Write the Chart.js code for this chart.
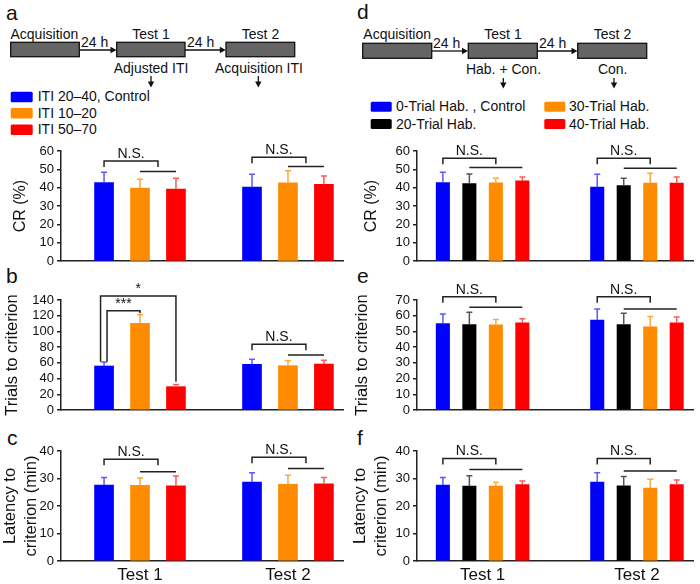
<!DOCTYPE html>
<html>
<head>
<meta charset="utf-8">
<script src="https://cdn.jsdelivr.net/npm/chart.js@4.4.1/dist/chart.umd.min.js"></script>
<style>
  body { margin: 0; background: #fff; }
  #wrap { position: relative; width: 700px; height: 584px; overflow: hidden; }
  #wrap canvas, #wrap svg { position: absolute; }
</style>
</head>
<body>
<div id="wrap">
  <svg id="art" width="700" height="584" style="left:0;top:0" font-family="Liberation Sans, Arial, sans-serif" fill="#111"></svg>
</div>
<script>
Chart.defaults.font.family = "'Liberation Sans', Arial, sans-serif";
Chart.defaults.color = '#111';

// categories and series
const groups = ['Test 1', 'Test 2'];
const itiNames = ['ITI 20–40, Control', 'ITI 10–20', 'ITI 50–70'];
const habNames = ['0-Trial Hab. , Control', '20-Trial Hab.', '30-Trial Hab.', '40-Trial Hab.'];

// means: one row per series, one value per test; sem = upper error bar
const crIti        = [[42.8, 40.3], [39.8, 42.7], [39.2, 41.9]];
const crItiSem     = [[5.6, 7.1], [4.8, 6.5], [6.0, 4.5]];
const trialsIti    = [[56.0, 58.1], [110.3, 56.4], [29.7, 58.5]];
const trialsItiSem = [[5.1, 6.4], [11.0, 6.4], [2.7, 4.7]];
const latIti       = [[27.6, 28.7], [27.5, 27.9], [27.3, 28.1]];
const latItiSem    = [[2.8, 3.4], [2.7, 3.3], [3.6, 2.3]];

const crHab        = [[42.8, 40.3], [42.3, 41.2], [42.7, 42.5], [43.7, 42.5]];
const crHabSem     = [[5.6, 7.1], [5.2, 4.0], [2.5, 5.4], [2.2, 3.4]];
const trialsHab    = [[55.0, 57.3], [54.4, 54.4], [54.2, 52.9], [55.4, 55.4]];
const trialsHabSem = [[6.1, 7.0], [7.8, 7.2], [3.4, 6.6], [2.6, 3.8]];
const latHab       = [[27.6, 28.7], [27.2, 27.3], [27.2, 26.5], [27.8, 27.8]];
const latHabSem    = [[2.8, 3.4], [3.8, 3.4], [1.4, 3.2], [1.3, 1.7]];

// significance brackets (values in axis units)
const crItiBr     = [{ group: 0, top: 54.5, line: 48.8, text: 'N.S.' }, { group: 1, top: 56.6, line: 51.5, text: 'N.S.' }];
const trialsItiBr = [
  { group: 0, from: 0, to: 2, top: 145, legFrom: 61.5, legTo: 36, text: '*' },
  { group: 0, from: 0, to: 1, top: 126.4, legFrom: 61.5, legTo: 123, text: '***' },
  { group: 1, top: 83.6, line: 70, text: 'N.S.' }
];
const latItiBr    = [{ group: 0, top: 37.0, line: 32.5, text: 'N.S.' }, { group: 1, top: 37.7, line: 33.6, text: 'N.S.' }];
const crHabBr     = [{ group: 0, top: 56.0, line: 51.0, text: 'N.S.' }, { group: 1, top: 56.0, line: 50.6, text: 'N.S.' }];
const trialsHabBr = [{ group: 0, top: 72.1, line: 65.4, text: 'N.S.' }, { group: 1, top: 72.1, line: 64.3, text: 'N.S.' }];
const latHabBr    = [{ group: 0, top: 37.3, line: 33.3, text: 'N.S.' }, { group: 1, top: 37.3, line: 32.7, text: 'N.S.' }];

// styles
const itiColors = ['#0000ff', '#ff8c00', '#ff0000'];
const itiErr    = ['#5a5aff', '#ffa83c', '#ff5a5a'];
const habColors = ['#0000ff', '#000000', '#ff8c00', '#ff0000'];
const habErr    = ['#5a5aff', '#555555', '#ffa83c', '#ff5a5a'];
const pairShift = [-3.5, 3];

// layout
const leftCol  = { left: 0,   axisW: 61, xMin: 0.466, xMax: 2.372, step: 0.243,  barW: 19 };
const rightCol = { left: 350, axisW: 67, xMin: 0.575, xMax: 2.363, step: 0.1716, barW: 13.4 };
const rows = [
  { top: 136, height: 136, padTop: 15, padBottom: 10, showX: false },
  { top: 272, height: 152, padTop: 28, padBottom: 14, showX: false },
  { top: 424, height: 160, padTop: 27, padBottom: 0,  showX: true }
];

function annotate(brackets) {
  return {
    id: 'annotate',
    afterDatasetsDraw(chart) {
      const ctx = chart.ctx, ys = chart.scales.y;
      const n = chart.data.datasets.length;
      const bx = (k, g) => chart.getDatasetMeta(k).data[g].x;
      ctx.save();
      ctx.lineWidth = 1.5;
      chart.data.datasets.forEach((ds, k) => {
        chart.getDatasetMeta(k).data.forEach((bar, g) => {
          const yE = ys.getPixelForValue(ds.data[g].y + ds.sem[g]);
          ctx.strokeStyle = ds.errColor;
          ctx.beginPath();
          ctx.moveTo(bar.x, bar.y); ctx.lineTo(bar.x, yE);
          ctx.moveTo(bar.x - 3, yE); ctx.lineTo(bar.x + 3, yE);
          ctx.stroke();
        });
      });
      ctx.strokeStyle = '#222';
      ctx.fillStyle = '#111';
      ctx.font = "14px 'Liberation Sans', Arial, sans-serif";
      ctx.textAlign = 'center';
      let pair = 0;
      brackets.forEach(b => {
        const yT = ys.getPixelForValue(b.top);
        let x1, x2, y1, y2;
        if (b.from === undefined) {
          const l1 = bx(1, b.group), l2 = bx(n - 1, b.group), yL = ys.getPixelForValue(b.line);
          ctx.beginPath(); ctx.moveTo(l1, yL); ctx.lineTo(l2, yL); ctx.stroke();
          x1 = bx(0, b.group); x2 = (l1 + l2) / 2; y1 = y2 = yT + 6;
        } else {
          x1 = bx(b.from, b.group) + pairShift[pair++]; x2 = bx(b.to, b.group);
          y1 = ys.getPixelForValue(b.legFrom); y2 = ys.getPixelForValue(b.legTo);
        }
        ctx.beginPath();
        ctx.moveTo(x1, y1); ctx.lineTo(x1, yT); ctx.lineTo(x2, yT); ctx.lineTo(x2, y2);
        ctx.stroke();
        ctx.fillText(b.text, (x1 + x2) / 2, yT - 3);
      });
      ctx.restore();
    }
  };
}

function makePanel(col, row, p) {
  const cv = document.createElement('canvas');
  cv.width = 350; cv.height = row.height;
  cv.style.left = col.left + 'px'; cv.style.top = row.top + 'px';
  document.getElementById('wrap').appendChild(cv);
  const mid = (p.means.length - 1) / 2;
  new Chart(cv, {
    type: 'bar',
    data: {
      datasets: p.means.map((m, k) => ({
        label: p.names[k],
        data: m.map((v, g) => ({ x: g + 1 + (k - mid) * col.step, y: v })),
        sem: p.sems[k],
        errColor: p.err[k],
        backgroundColor: p.colors[k],
        borderWidth: 0,
        grouped: false,
        barThickness: col.barW
      }))
    },
    options: {
      responsive: false,
      animation: false,
      layout: { padding: { top: row.padTop, bottom: row.padBottom, left: 0, right: 7 } },
      plugins: { legend: { display: false }, tooltip: { enabled: false } },
      scales: {
        x: {
          type: 'linear', min: col.xMin, max: col.xMax, offset: false,
          grid: { display: false, drawTicks: false },
          border: { color: '#222', width: 1.5 },
          ticks: { display: row.showX, autoSkip: false, maxRotation: 0, padding: 4,
                   font: { size: 17 }, color: '#111', callback: (v, i) => groups[i] },
          afterBuildTicks: s => { s.ticks = groups.map((_, i) => ({ value: i + 1 })); },
          afterFit: s => { s.height = row.showX ? 23 : 0; }
        },
        y: {
          min: 0, max: p.yMax,
          ticks: { stepSize: p.yStep, autoSkip: false, padding: 3, font: { size: 13 }, color: '#111' },
          grid: { drawOnChartArea: false, drawTicks: true, tickLength: 4, color: '#222', lineWidth: 1.5 },
          border: { color: '#222', width: 1.5 },
          title: { display: true, text: p.title, color: '#111',
                   font: { size: p.titleSize, lineHeight: p.titleLH || 1.2 },
                   padding: { top: p.titlePad, bottom: 0 } },
          afterFit: s => { s.width = col.axisW; }
        }
      }
    },
    plugins: [annotate(p.brackets)]
  });
}

const iti = { names: itiNames, colors: itiColors, err: itiErr };
const hab = { names: habNames, colors: habColors, err: habErr };
const latTitle = ['Latency to', 'criterion (min)'];

makePanel(leftCol, rows[0], { ...iti, means: crIti, sems: crItiSem, yMax: 60, yStep: 10, title: 'CR (%)', titleSize: 16, titlePad: 10.5, brackets: crItiBr });
makePanel(leftCol, rows[1], { ...iti, means: trialsIti, sems: trialsItiSem, yMax: 140, yStep: 20, title: 'Trials to criterion', titleSize: 16.5, titlePad: 3, brackets: trialsItiBr });
makePanel(leftCol, rows[2], { ...iti, means: latIti, sems: latItiSem, yMax: 40, yStep: 10, title: latTitle, titleSize: 16.5, titleLH: 1.27, titlePad: 0, brackets: latItiBr });
makePanel(rightCol, rows[0], { ...hab, means: crHab, sems: crHabSem, yMax: 60, yStep: 10, title: 'CR (%)', titleSize: 16, titlePad: 11.5, brackets: crHabBr });
makePanel(rightCol, rows[1], { ...hab, means: trialsHab, sems: trialsHabSem, yMax: 70, yStep: 10, title: 'Trials to criterion', titleSize: 16.5, titlePad: 3, brackets: trialsHabBr });
makePanel(rightCol, rows[2], { ...hab, means: latHab, sems: latHabSem, yMax: 40, yStep: 10, title: latTitle, titleSize: 16.5, titleLH: 1.27, titlePad: 0, brackets: latHabBr });

// schematic, legends and panel letters
let s = '';
const T = (x, y, str, anchor, size) =>
  s += `<text x="${x}" y="${y}" font-size="${size || 14}" text-anchor="${anchor || 'start'}">${str}</text>`;
const box = (x, y, w, h) =>
  s += `<rect x="${x}" y="${y}" width="${w}" height="${h}" fill="#646464" stroke="#111" stroke-width="1.3"/>`;
const arrowR = (x1, x2, y) =>
  s += `<line x1="${x1}" y1="${y}" x2="${x2 - 5}" y2="${y}" stroke="#111" stroke-width="1.3"/>` +
       `<polygon points="${x2 - 6},${y - 3.2} ${x2},${y} ${x2 - 6},${y + 3.2}" fill="#111"/>`;
const arrowD = (x, y1, y2) =>
  s += `<line x1="${x}" y1="${y1}" x2="${x}" y2="${y2 - 5}" stroke="#111" stroke-width="1.3"/>` +
       `<polygon points="${x - 3.2},${y2 - 6} ${x},${y2} ${x + 3.2},${y2 - 6}" fill="#111"/>`;

// panel a
T(6, 20, 'a', 'start', 21);
T(10.5, 38.5, 'Acquisition'); box(10.7, 42.3, 68.6, 14.4);
T(81, 47, '24 h'); arrowR(79.3, 116.5, 50);
T(151, 38.5, 'Test 1', 'middle'); box(116.7, 42.3, 68.3, 14.4);
T(187, 47, '24 h'); arrowR(185, 225.8, 50);
T(260.5, 38.5, 'Test 2', 'middle'); box(226, 42.3, 68.7, 14.4);
T(151, 72.5, 'Adjusted ITI', 'middle'); arrowD(151, 76, 87.5);
T(259, 72.5, 'Acquisition ITI', 'middle'); arrowD(258.3, 76, 87.5);
itiNames.forEach((nm, i) => {
  s += `<rect x="10.7" y="${91.7 + i * 16.4}" width="22" height="10.5" rx="1.5" fill="${itiColors[i]}"/>`;
  T(37.7, 101.3 + i * 16.4, nm);
});

// panel d
T(357, 18.5, 'd', 'start', 21);
T(363.3, 38.5, 'Acquisition'); box(362.7, 43.3, 69, 15);
T(433, 47.7, '24 h'); arrowR(431.7, 468, 51);
T(503, 38.5, 'Test 1', 'middle'); box(468.3, 43.3, 69, 15);
T(539, 47.7, '24 h'); arrowR(537.3, 577.5, 51);
T(612.5, 38.5, 'Test 2', 'middle'); box(577.7, 43.3, 69, 15);
T(503.5, 74, 'Hab. + Con.', 'middle'); arrowD(503.3, 78, 88.5);
T(612.7, 74, 'Con.', 'middle'); arrowD(614, 78, 88.5);
habNames.forEach((nm, i) => {
  const c = i < 2 ? 0 : 1, r = i % 2;
  s += `<rect x="${[370.7, 544.3][c]}" y="${101.7 + r * 17.3}" width="21" height="10" rx="1.5" fill="${habColors[i]}"/>`;
  T([396, 569][c], 111.2 + r * 17.3, nm);
});

T(6, 283, 'b', 'start', 21);
T(357, 283, 'e', 'start', 21);
T(7, 445, 'c', 'start', 21);
T(357, 445, 'f', 'start', 21);

document.getElementById('art').innerHTML = s;
</script>
</body>
</html>
